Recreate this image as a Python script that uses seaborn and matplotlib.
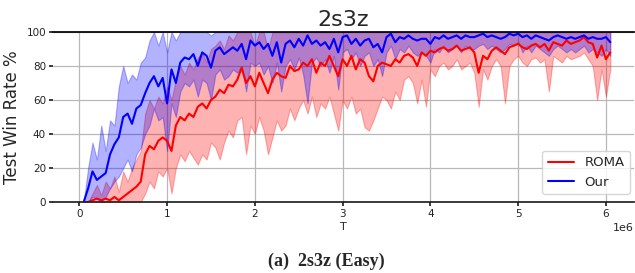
import numpy as np
import pandas as pd
import seaborn as sns
import matplotlib
matplotlib.use("Agg")
import matplotlib.pyplot as plt

# time steps (in millions), one sample every 50k steps
steps_m = np.round(np.arange(0.05, 6.051, 0.05), 2)

# ---- ROMA (red) ----
roma_mean = [
    0, 0, 1, 2, 1, 2, 1, 3, 1, 3,
    5, 7, 9, 12, 28, 33, 31, 36, 38, 36,
    30, 45, 50, 48, 52, 50, 56, 58, 55, 60,
    62, 66, 64, 69, 68, 72, 79, 70, 74, 68,
    76, 70, 64, 72, 76, 74, 73, 80, 77, 78,
    82, 80, 84, 76, 82, 80, 86, 80, 74, 84,
    80, 86, 78, 84, 82, 74, 71, 80, 82, 81,
    80, 84, 82, 86, 87, 85, 80, 88, 86, 89,
    88, 90, 91, 89, 90, 92, 89, 90, 91, 88,
    76, 86, 84, 89, 91, 89, 87, 91, 92, 93,
    91, 90, 92, 93, 91, 93, 89, 94, 93, 92,
    95, 93, 94, 95, 97, 94, 93, 85, 92, 84,
    88,
]
roma_lo = [
    0, 0, 0, 0, 0, 0, 0, 0, 0, 0,
    0, 0, 0, 0, 5, 12, 8, 18, 15, 20,
    5, 20, 28, 24, 30, 26, 22, 28, 25, 35,
    32, 25, 35, 42, 38, 48, 50, 28, 45, 40,
    50, 42, 28, 38, 48, 42, 45, 55, 48, 55,
    60, 52, 62, 50, 58, 55, 62, 52, 42, 60,
    55, 62, 52, 55, 44, 42, 48, 55, 62, 60,
    55, 65, 60, 72, 74, 70, 58, 72, 56, 78,
    74, 80, 82, 78, 80, 84, 78, 80, 82, 76,
    56, 78, 72, 80, 84, 80, 58, 80, 84, 86,
    82, 80, 84, 85, 82, 84, 65, 86, 84, 82,
    86, 84, 85, 86, 88, 84, 80, 60, 78, 62,
    78,
]
roma_hi = [
    0, 0, 5, 10, 4, 12, 8, 15, 6, 18,
    12, 20, 25, 30, 52, 60, 55, 62, 58, 68,
    60, 72, 80, 75, 82, 78, 85, 88, 82, 90,
    92, 95, 90, 98, 95, 100, 100, 100, 100, 92,
    100, 100, 90, 100, 100, 100, 100, 100, 100, 100,
    100, 100, 100, 100, 100, 100, 100, 100, 100, 100,
    100, 100, 100, 100, 100, 100, 100, 100, 100, 100,
    100, 100, 100, 100, 100, 100, 100, 100, 100, 100,
    100, 100, 100, 100, 100, 100, 100, 100, 100, 100,
    100, 100, 100, 100, 100, 100, 100, 100, 100, 100,
    100, 100, 100, 100, 100, 100, 100, 100, 100, 100,
    100, 100, 100, 100, 100, 100, 100, 100, 100, 100,
    100,
]

# ---- Our (blue) ----
our_mean = [
    0, 8, 18, 13, 15, 17, 28, 34, 38, 50,
    52, 46, 55, 57, 64, 70, 74, 68, 73, 58,
    78, 70, 82, 85, 84, 87, 80, 88, 86, 79,
    89, 91, 87, 89, 91, 89, 93, 84, 95, 92,
    94, 90, 93, 86, 94, 82, 93, 95, 91, 96,
    92, 98, 93, 95, 92, 94, 90, 96, 88, 97,
    98, 93, 96, 92, 95, 96, 91, 93, 88, 97,
    99, 94, 97, 96, 98, 96, 95, 96, 96, 93,
    97, 96, 98, 96, 97, 98, 96, 98, 97, 97,
    98, 99, 97, 98, 97, 96, 97, 99, 98, 99,
    97, 98, 96, 98, 97, 96, 95, 97, 98, 97,
    96, 97, 96, 97, 98, 96, 97, 96, 96, 97,
    94,
]
our_lo = [
    0, 0, 3, 2, 0, 3, 8, 12, 15, 20,
    25, 18, 28, 32, 40, 45, 55, 48, 50, 30,
    58, 50, 65, 70, 68, 72, 62, 72, 70, 60,
    75, 78, 72, 74, 78, 76, 80, 65, 82, 80,
    82, 75, 80, 70, 82, 65, 80, 84, 78, 85,
    75, 58, 82, 85, 80, 84, 76, 86, 66, 88,
    90, 84, 88, 80, 86, 88, 80, 84, 74, 88,
    92, 84, 90, 88, 92, 88, 86, 88, 86, 82,
    90, 88, 92, 88, 90, 92, 88, 92, 90, 90,
    92, 93, 90, 92, 90, 88, 90, 93, 92, 94,
    88, 92, 88, 92, 90, 88, 86, 90, 92, 90,
    88, 90, 88, 90, 92, 88, 90, 88, 86, 90,
    86,
]
our_hi = [
    0, 20, 35, 25, 45, 30, 48, 45, 68, 80,
    70, 75, 72, 82, 85, 95, 100, 92, 100, 88,
    100, 95, 100, 100, 100, 100, 100, 100, 100, 98,
    100, 100, 100, 100, 100, 100, 100, 100, 100, 100,
    100, 100, 100, 100, 100, 100, 100, 100, 100, 100,
    100, 100, 100, 100, 100, 100, 100, 100, 100, 100,
    100, 100, 100, 100, 100, 100, 100, 100, 100, 100,
    100, 100, 100, 100, 100, 100, 100, 100, 100, 100,
    100, 100, 100, 100, 100, 100, 100, 100, 100, 100,
    100, 100, 100, 100, 100, 100, 100, 100, 100, 100,
    100, 100, 100, 100, 100, 100, 100, 100, 100, 100,
    100, 100, 100, 100, 100, 100, 100, 100, 100, 100,
    100,
]

methods = ["ROMA", "Our"]
colors = {"ROMA": "#ff0000", "Our": "#0000ff"}

steps = steps_m * 1e6
df = pd.concat([
    pd.DataFrame({"T": steps, "win": roma_mean, "lo": roma_lo, "hi": roma_hi, "method": "ROMA"}),
    pd.DataFrame({"T": steps, "win": our_mean, "lo": our_lo, "hi": our_hi, "method": "Our"}),
])

sns.set_theme(style="whitegrid", rc={
    "grid.color": "#b8b8b8",
    "grid.linewidth": 0.9,
    "axes.edgecolor": "#222222",
    "xtick.bottom": True,
    "ytick.left": True,
    "xtick.major.size": 3,
    "ytick.major.size": 3,
    "xtick.color": "#222222",
    "ytick.color": "#222222",
})
plt.rcParams["font.family"] = ["DejaVu Sans"]

fig = plt.figure(figsize=(6.35, 2.73), dpi=100)
ax = fig.add_axes([53 / 635, 71 / 273, 581 / 635, 170 / 273])

# shaded bands
for m in methods:
    d = df[df["method"] == m]
    ax.fill_between(d["T"], d["lo"], d["hi"], color=colors[m], alpha=0.3, linewidth=0.8)

sns.lineplot(data=df, x="T", y="win", hue="method", hue_order=methods,
             palette=colors, estimator=None, linewidth=1.5, ax=ax)

ax.set_ylim(0, 100)
ax.set_xlim(-0.3e6, 6.32e6)
ax.set_yticks([0, 20, 40, 60, 80, 100])
ax.tick_params(labelsize=7.5, pad=2)
ax.set_xlabel("T", fontsize=8, labelpad=2)
ax.set_ylabel("Test Win Rate %", fontsize=12, labelpad=4)
ax.set_title("2s3z", fontsize=16, pad=4)
ax.xaxis.get_offset_text().set_fontsize(8)

ax.spines["left"].set_visible(False)
ax.spines["right"].set_visible(False)
ax.spines["top"].set_color("black")

leg = ax.legend(loc="lower right", bbox_to_anchor=(630 / 635, 79 / 273),
                bbox_transform=fig.transFigure, borderaxespad=0,
                fontsize=9.5, frameon=True, title=None)
leg.get_frame().set_edgecolor("#cccccc")

fig.text(326 / 635, 12 / 273, "(a)  2s3z (Easy)", ha="center", va="center",
         fontsize=13, fontweight="bold", family="Liberation Serif")

fig.savefig("out.png", dpi=100)
